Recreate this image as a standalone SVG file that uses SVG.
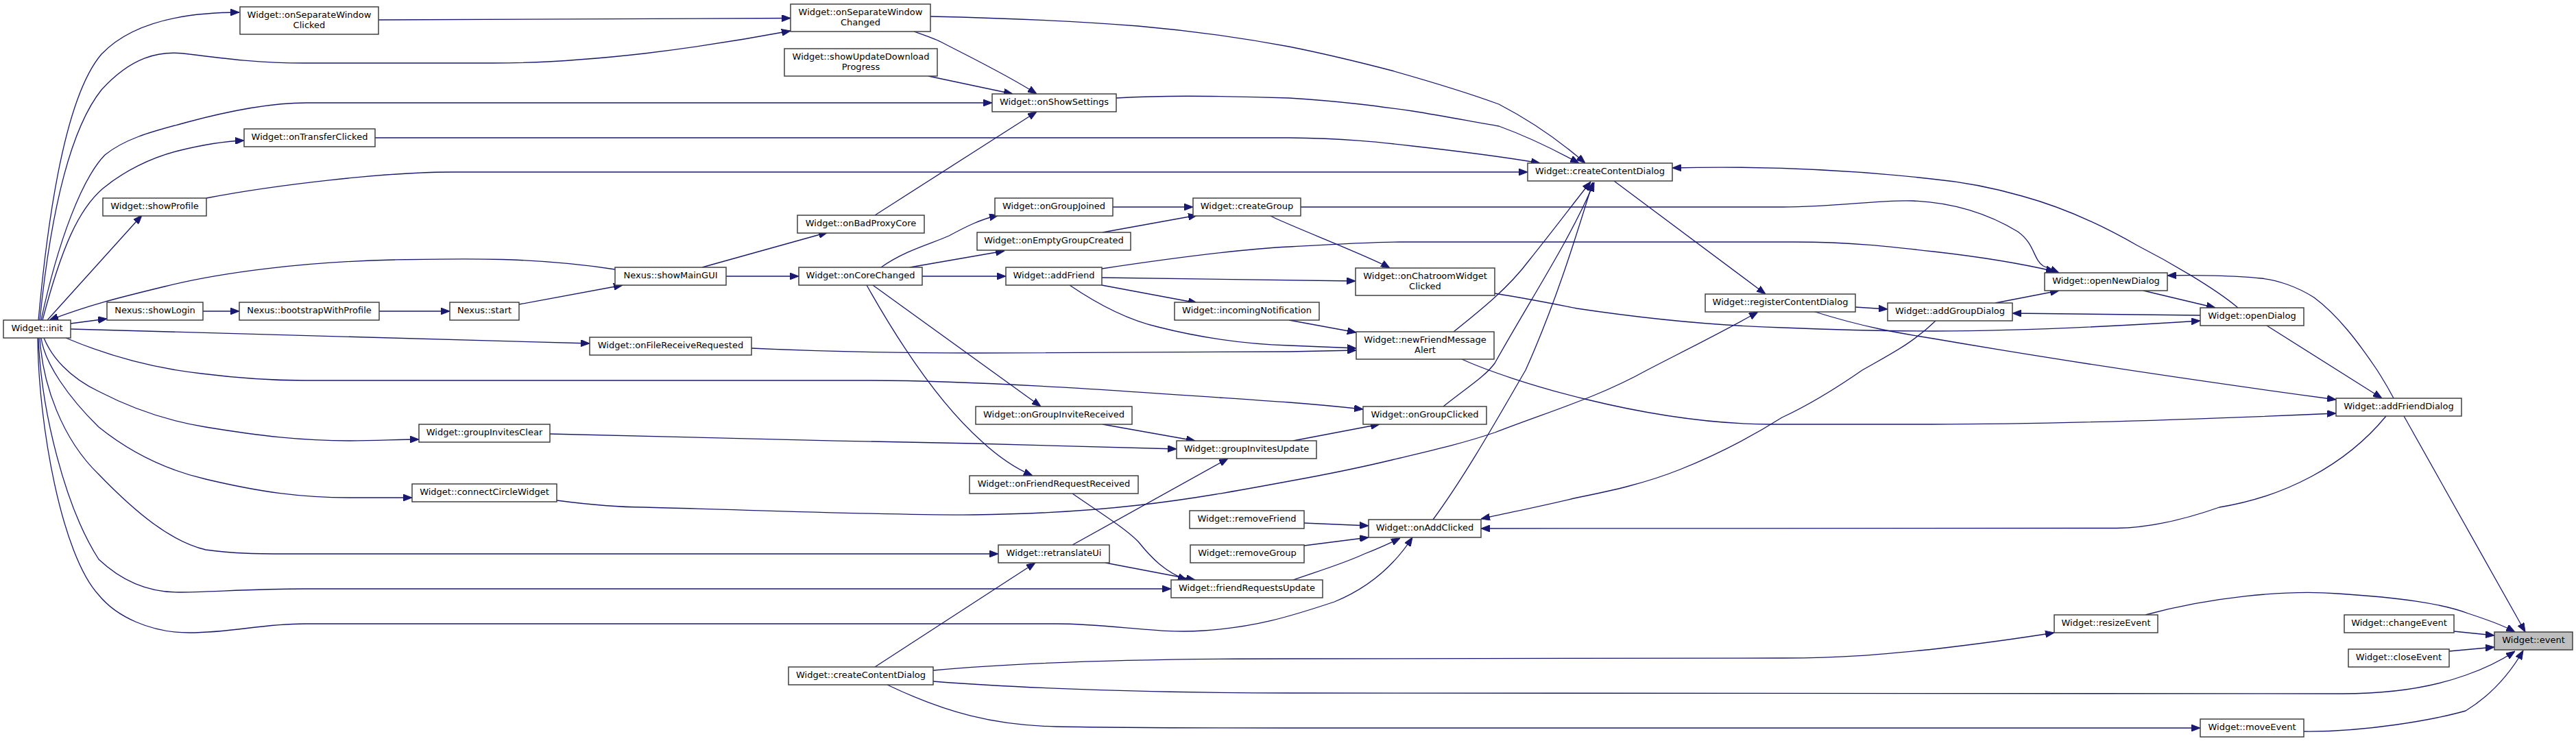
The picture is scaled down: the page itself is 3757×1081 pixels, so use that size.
<svg xmlns="http://www.w3.org/2000/svg" width="3757" height="1081" viewBox="0 0 3757 1081">
<style>
.n rect{fill:#fff;stroke:#404040;stroke-width:1.5}
.n.f rect{fill:#bfbfbf}
.n text{font-family:"DejaVu Sans","Liberation Sans",sans-serif;font-size:13px;text-anchor:middle;fill:#000}
.e path{fill:none;stroke:#191970;stroke-width:1.3;marker-end:url(#a)}
</style>
<defs>
<marker id="a" viewBox="0 0 13 10" refX="13" refY="5" markerWidth="13" markerHeight="10" markerUnits="userSpaceOnUse" orient="auto">
<path d="M0,0 L13,5 L0,10 z" fill="#191970" stroke="#191970" stroke-width="1"/>
</marker>
</defs>
<rect width="3757" height="1081" fill="#fff"/>
<g id="edges" class="e">
<path d="M56,467 C72,290 100,135 148,79 C190,35 260,18 349,18"/>
<path d="M58,467 C75,300 105,185 148,131 C190,85 230,72 276,79 C330,86 380,92 444,92 L719,92 C800,92 870,86 940,78 C1030,67 1100,55 1153,45"/>
<path d="M60,467 C85,350 120,260 153,226 C185,200 230,190 270,179 C340,160 400,150 447,150 L1447,150"/>
<path d="M62,467 C90,360 115,305 150,275 C180,250 220,230 260,220 C300,210 330,206 356,205"/>
<path d="M69,467 L207,314"/>
<path d="M897,393 C780,375 680,377 575,379 C440,382 320,398 240,418 C170,435 130,445 72,467"/>
<path d="M103,472 L156,465"/>
<path d="M103,480 L860,501"/>
<path d="M96,493 C160,520 230,538 294,545 C350,552 400,555 444,555 L1264,555 C1450,555 1700,575 1880,587 C1920,590 1960,594 1988,597"/>
<path d="M64,493 C75,520 100,550 144,571 C200,600 250,615 300,623 C380,636 440,643 510,643 C550,643 580,641 611,641"/>
<path d="M60,493 C65,530 100,580 144,623 C190,660 240,685 300,699 C380,718 440,726 510,726 L601,726"/>
<path d="M58,493 C62,560 90,640 144,692 C200,750 250,790 300,802 C340,808 380,808 432,808 L1456,808"/>
<path d="M56,493 C60,600 95,740 144,816 C180,850 220,864 260,864 C300,864 370,859 444,859 L1708,859"/>
<path d="M55,493 C56,620 90,810 144,868 C170,900 220,923 276,923 C340,923 380,910 444,910 L1540,910 C1620,910 1690,925 1755,920 C1830,915 1880,900 1946,878 C1990,860 2030,830 2060,784"/>
<path d="M296,454 L349,454"/>
<path d="M553,454 L656,454"/>
<path d="M757,444 L908,416"/>
<path d="M1024,390 L1207,339"/>
<path d="M1059,403 L1165,403"/>
<path d="M552,29 L1153,26.5"/>
<path d="M1333,46 C1350,52 1362,56 1372,61 C1420,86 1470,110 1512,137"/>
<path d="M1354,111 L1477,137"/>
<path d="M1276,314 L1512,163"/>
<path d="M1357,24 C1450,26 1560,30 1660,38 C1740,45 1810,55 1880,68 C1930,78 1980,90 2030,103 C2090,120 2140,135 2186,152 C2240,180 2280,210 2312,238"/>
<path d="M1628,143 C1680,140 1730,140 1767,140.5 C1810,141 1850,142 1880,143 C1960,148 2010,155 2060,162 C2110,170 2150,178 2186,184 C2230,200 2270,220 2303,238"/>
<path d="M547,201 L1880,201 C1960,202 2010,207 2060,213 C2140,222 2200,230 2246,238"/>
<path d="M301,289 C400,270 560,251 660,251 L2228,251"/>
<path d="M1285,390 C1320,365 1360,355 1384,344 C1410,330 1430,320 1456,314"/>
<path d="M1327,390 L1465,366"/>
<path d="M1345,403 L1467,403"/>
<path d="M1273,416 L1518,593"/>
<path d="M1264,416 C1300,480 1360,580 1432,644 C1460,670 1485,685 1506,694"/>
<path d="M1623,302 L1740,302"/>
<path d="M1608,339 L1746,314"/>
<path d="M1851,314 C1870,325 2000,375 2027,391"/>
<path d="M1897,302 L2600,302 C2680,302 2740,291 2790,293 C2860,296 2910,318 2943,338 C2968,356 2965,378 2980,388 L3003,398"/>
<path d="M1607,392 C1700,378 1800,364 1880,360 C1950,356 2000,353 2042,353 L2617,353 C2700,353 2760,360 2820,367 C2900,376 2950,385 2997,396"/>
<path d="M1607,405 C1750,406 1880,408 1977,410"/>
<path d="M1607,416 L1746,442"/>
<path d="M1560,416 C1610,450 1650,468 1689,477 C1760,495 1820,502 1880,504 L1978,508"/>
<path d="M1880,467 L1978,485"/>
<path d="M1096,508 C1250,515 1350,515 1420,515 C1600,515 1780,513 1880,513 L1978,511"/>
<path d="M2180,428 C2230,436 2260,442 2300,450 C2400,465 2500,475 2600,478 C2700,482 2780,483 2820,483 C2950,483 3100,475 3209,468"/>
<path d="M2120,484 C2160,452 2200,420 2230,380 C2270,330 2300,290 2320,265"/>
<path d="M2132,524 C2200,555 2400,618 2581,619 L2817,619 C3000,619 3200,612 3407,603"/>
<path d="M2105,593 C2140,565 2165,550 2180,530 C2230,440 2290,350 2325,266"/>
<path d="M2090,758 C2140,690 2190,600 2225,540 C2270,440 2300,340 2323,266"/>
<path d="M2354,264 L2575,429"/>
<path d="M812,730 C850,735 900,740 940,740 C1100,744 1300,752 1420,751 C1500,750 1590,745 1660,737 C1740,728 1810,715 1880,702 C1930,693 1980,683 2030,671 C2080,659 2130,648 2180,631 C2260,600 2330,580 2402,540 C2460,510 2520,480 2564,455"/>
<path d="M2706,448 L2753,451"/>
<path d="M2644,454 C2720,478 2770,486 2820,494 C3000,525 3200,555 3407,583"/>
<path d="M2910,442 L3003,424"/>
<path d="M2823,468 C2790,500 2760,515 2716,540 C2680,565 2640,590 2599,609 C2550,640 2500,665 2450,685 C2400,705 2350,716 2300,726 C2250,738 2200,748 2160,757"/>
<path d="M3209,460 L2935,457"/>
<path d="M3126,424 L3231,449"/>
<path d="M3264,449 C3230,420 3160,380 3117,358 C3060,325 3000,300 2949,286 C2900,272 2860,265 2817,261 C2720,250 2600,241 2439,245"/>
<path d="M3306,475 L3474,581"/>
<path d="M3491,581 C3480,560 3475,553 3467,540 C3440,500 3410,460 3375,434 C3350,418 3320,408 3297,406 C3260,402 3200,401 3161,402"/>
<path d="M3480,607 C3420,680 3330,725 3237,740 C3180,760 3130,770 3087,770.5 L2160,771"/>
<path d="M3506,607 L3683,922"/>
<path d="M1608,619 L1743,643"/>
<path d="M802,633 C900,636 1200,643 1420,647 C1550,650 1650,653 1716,655"/>
<path d="M1564,795 L1791,669"/>
<path d="M1886,643 L2012,619"/>
<path d="M1612,821 L1743,846"/>
<path d="M1564,720 C1600,745 1640,770 1660,790 C1680,815 1700,835 1731,846"/>
<path d="M1886,846 C1920,834 1960,822 1990,808 C2010,800 2028,792 2042,785"/>
<path d="M1902,763 L1996,767"/>
<path d="M1902,796 L1996,784"/>
<path d="M1276,973 L1510,821"/>
<path d="M1361,978 C1500,965 1700,961 1880,961 L2600,960 C2700,960 2760,953 2820,947 C2880,940 2940,932 2996,923"/>
<path d="M1361,994 C1500,1005 1700,1011 1880,1011 L3416,1012 C3500,1012 3560,998 3596,985 C3625,975 3650,962 3668,950"/>
<path d="M1294,999 C1380,1040 1450,1058 1540,1060 C1650,1062 1780,1062 1880,1062 L3209,1062"/>
<path d="M3129,897 C3220,872 3330,860 3410,866 C3500,872 3560,880 3600,895 C3630,905 3650,912 3668,922"/>
<path d="M3579,921 L3638,927"/>
<path d="M3572,950 L3638,944"/>
<path d="M3360,1067 C3450,1068 3550,1050 3596,1037 C3640,1010 3665,975 3680,949"/>
</g>
<g id="n_init" class="n"><rect x="5" y="467" width="98" height="26"/><text x="54" y="483">Widget::init</text></g>
<g id="n_onSeparateWindowClicked" class="n"><rect x="350" y="10" width="202" height="40"/><text x="451" y="26">Widget::onSeparateWindow</text><text x="451" y="41">Clicked</text></g>
<g id="n_onTransferClicked" class="n"><rect x="356" y="188" width="191" height="26"/><text x="451.5" y="204">Widget::onTransferClicked</text></g>
<g id="n_showProfile" class="n"><rect x="150" y="289" width="151" height="26"/><text x="225.5" y="305">Widget::showProfile</text></g>
<g id="n_showLogin" class="n"><rect x="156" y="441" width="140" height="26"/><text x="226" y="457">Nexus::showLogin</text></g>
<g id="n_bootstrapWithProfile" class="n"><rect x="349" y="441" width="204" height="26"/><text x="451" y="457">Nexus::bootstrapWithProfile</text></g>
<g id="n_start" class="n"><rect x="656" y="441" width="101" height="26"/><text x="706.5" y="457">Nexus::start</text></g>
<g id="n_showMainGUI" class="n"><rect x="897" y="390" width="162" height="26"/><text x="978" y="406">Nexus::showMainGUI</text></g>
<g id="n_onFileReceiveRequested" class="n"><rect x="860" y="492" width="236" height="26"/><text x="978" y="508">Widget::onFileReceiveRequested</text></g>
<g id="n_groupInvitesClear" class="n"><rect x="611" y="619" width="191" height="26"/><text x="706.5" y="635">Widget::groupInvitesClear</text></g>
<g id="n_connectCircleWidget" class="n"><rect x="601" y="706" width="211" height="26"/><text x="706.5" y="722">Widget::connectCircleWidget</text></g>
<g id="n_onSeparateWindowChanged" class="n"><rect x="1153" y="6" width="204" height="40"/><text x="1255" y="22">Widget::onSeparateWindow</text><text x="1255" y="37">Changed</text></g>
<g id="n_showUpdateDownloadProgress" class="n"><rect x="1144" y="71" width="223" height="40"/><text x="1255.5" y="87">Widget::showUpdateDownload</text><text x="1255.5" y="102">Progress</text></g>
<g id="n_onShowSettings" class="n"><rect x="1447" y="137" width="181" height="26"/><text x="1537.5" y="153">Widget::onShowSettings</text></g>
<g id="n_onBadProxyCore" class="n"><rect x="1163" y="314" width="185" height="26"/><text x="1255.5" y="330">Widget::onBadProxyCore</text></g>
<g id="n_onCoreChanged" class="n"><rect x="1165" y="390" width="180" height="26"/><text x="1255" y="406">Widget::onCoreChanged</text></g>
<g id="n_createContentDialog2" class="n"><rect x="1150" y="973" width="211" height="26"/><text x="1255.5" y="989">Widget::createContentDialog</text></g>
<g id="n_onGroupJoined" class="n"><rect x="1451" y="289" width="172" height="26"/><text x="1537" y="305">Widget::onGroupJoined</text></g>
<g id="n_onEmptyGroupCreated" class="n"><rect x="1425" y="339" width="224" height="26"/><text x="1537" y="355">Widget::onEmptyGroupCreated</text></g>
<g id="n_addFriend" class="n"><rect x="1467" y="390" width="140" height="26"/><text x="1537" y="406">Widget::addFriend</text></g>
<g id="n_onGroupInviteReceived" class="n"><rect x="1423" y="593" width="228" height="26"/><text x="1537" y="609">Widget::onGroupInviteReceived</text></g>
<g id="n_onFriendRequestReceived" class="n"><rect x="1414" y="694" width="246" height="26"/><text x="1537" y="710">Widget::onFriendRequestReceived</text></g>
<g id="n_retranslateUi" class="n"><rect x="1456" y="795" width="162" height="26"/><text x="1537" y="811">Widget::retranslateUi</text></g>
<g id="n_createGroup" class="n"><rect x="1740" y="289" width="157" height="26"/><text x="1818.5" y="305">Widget::createGroup</text></g>
<g id="n_incomingNotification" class="n"><rect x="1713" y="441" width="211" height="26"/><text x="1818.5" y="457">Widget::incomingNotification</text></g>
<g id="n_groupInvitesUpdate" class="n"><rect x="1716" y="643" width="204" height="26"/><text x="1818" y="659">Widget::groupInvitesUpdate</text></g>
<g id="n_removeFriend" class="n"><rect x="1735" y="745" width="167" height="26"/><text x="1818.5" y="761">Widget::removeFriend</text></g>
<g id="n_removeGroup" class="n"><rect x="1736" y="795" width="166" height="26"/><text x="1819" y="811">Widget::removeGroup</text></g>
<g id="n_friendRequestsUpdate" class="n"><rect x="1708" y="846" width="221" height="26"/><text x="1818.5" y="862">Widget::friendRequestsUpdate</text></g>
<g id="n_onChatroomWidgetClicked" class="n"><rect x="1977" y="391" width="203" height="40"/><text x="2078.5" y="407">Widget::onChatroomWidget</text><text x="2078.5" y="422">Clicked</text></g>
<g id="n_newFriendMessageAlert" class="n"><rect x="1978" y="484" width="201" height="40"/><text x="2078.5" y="500">Widget::newFriendMessage</text><text x="2078.5" y="515">Alert</text></g>
<g id="n_onGroupClicked" class="n"><rect x="1988" y="593" width="180" height="26"/><text x="2078" y="609">Widget::onGroupClicked</text></g>
<g id="n_onAddClicked" class="n"><rect x="1996" y="758" width="164" height="26"/><text x="2078" y="774">Widget::onAddClicked</text></g>
<g id="n_createContentDialog" class="n"><rect x="2228" y="238" width="211" height="26"/><text x="2333.5" y="254">Widget::createContentDialog</text></g>
<g id="n_registerContentDialog" class="n"><rect x="2487" y="429" width="219" height="26"/><text x="2596.5" y="445">Widget::registerContentDialog</text></g>
<g id="n_addGroupDialog" class="n"><rect x="2753" y="442" width="182" height="26"/><text x="2844" y="458">Widget::addGroupDialog</text></g>
<g id="n_openNewDialog" class="n"><rect x="2982" y="398" width="179" height="26"/><text x="3071.5" y="414">Widget::openNewDialog</text></g>
<g id="n_resizeEvent" class="n"><rect x="2996" y="897" width="151" height="26"/><text x="3071.5" y="913">Widget::resizeEvent</text></g>
<g id="n_openDialog" class="n"><rect x="3209" y="449" width="151" height="26"/><text x="3284.5" y="465">Widget::openDialog</text></g>
<g id="n_moveEvent" class="n"><rect x="3209" y="1049" width="151" height="26"/><text x="3284.5" y="1065">Widget::moveEvent</text></g>
<g id="n_addFriendDialog" class="n"><rect x="3407" y="581" width="183" height="26"/><text x="3498.5" y="597">Widget::addFriendDialog</text></g>
<g id="n_changeEvent" class="n"><rect x="3419" y="897" width="160" height="26"/><text x="3499" y="913">Widget::changeEvent</text></g>
<g id="n_closeEvent" class="n"><rect x="3425" y="947" width="147" height="26"/><text x="3498.5" y="963">Widget::closeEvent</text></g>
<g id="n_event" class="n f"><rect x="3638" y="922" width="114" height="26"/><text x="3695" y="938">Widget::event</text></g>
</svg>
